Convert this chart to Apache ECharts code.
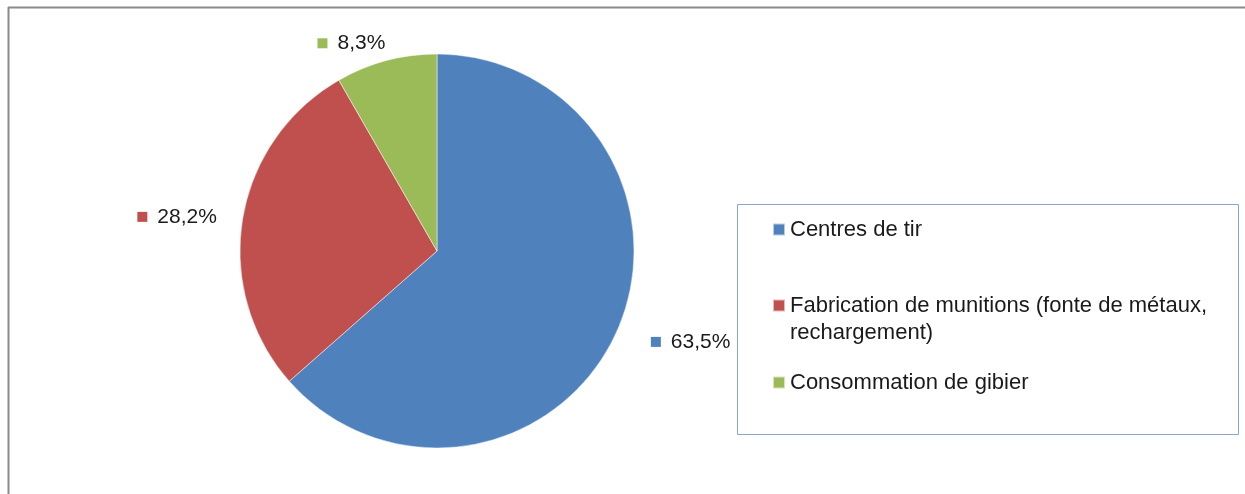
<!DOCTYPE html>
<html>
<head>
<meta charset="utf-8">
<script src="https://cdn.jsdelivr.net/npm/echarts@6/dist/echarts.min.js"></script>
<style>
  html, body { margin: 0; padding: 0; background: #fff; }
  #chart { width: 1245px; height: 494px; }
</style>
</head>
<body>
<div id="chart"></div>
<script>
// ---- data ----
const categories = ['Centres de tir', 'Fabrication de munitions (fonte de métaux, rechargement)', 'Consommation de gibier'];
const legendLabels = ['Centres de tir', '\nFabrication de munitions (fonte de métaux,\nrechargement)', 'Consommation de gibier'];
const shares = [63.5, 28.2, 8.3];
const colors = ['#4f81bd', '#c0504d', '#9bbb59'];

// ---- style ----
const FONT = 'Liberation Sans';
const TEXT = '#1a1a1a';
const labelShift = [[12, 2], [-2, 1], [9, 1]];
const legendTops = [216, 265, 369];

const chart = echarts.init(document.getElementById('chart'), null, { renderer: 'canvas' });

const rich = { t: { fontFamily: FONT, fontSize: 21, color: TEXT, padding: [0, 0, 0, 10] } };
colors.forEach((c, i) => { rich['m' + i] = { width: 10, height: 10, backgroundColor: c }; });

const pieData = categories.map((name, i) => ({ name, value: shares[i], itemStyle: { color: colors[i] } }));

const legends = categories.map((name, i) => ({
  data: [name],
  orient: 'vertical',
  left: 772,
  top: legendTops[i],
  padding: 0,
  icon: 'rect',
  itemWidth: 12,
  itemHeight: 12,
  selectedMode: false,
  formatter: () => legendLabels[i],
  textStyle: { fontFamily: FONT, fontSize: 22, color: TEXT, lineHeight: 27 }
}));

chart.setOption({
  animation: false,
  color: colors,
  legend: legends,
  graphic: [
    { type: 'line', shape: { x1: 8, y1: 7.5, x2: 1245, y2: 7.5 }, style: { stroke: '#8a8a8a', lineWidth: 2 } },
    { type: 'line', shape: { x1: 8.5, y1: 7, x2: 8.5, y2: 494 }, style: { stroke: '#8a8a8a', lineWidth: 2 } },
    { type: 'rect', shape: { x: 737.5, y: 204.5, width: 501, height: 230 }, style: { fill: 'none', stroke: '#8aa6cc', lineWidth: 1 }, z: -1 }
  ],
  series: [{
    type: 'pie',
    center: [437, 251],
    radius: 197,
    startAngle: 90,
    clockwise: true,
    avoidLabelOverlap: false,
    itemStyle: { borderColor: 'rgba(255,255,255,0.6)', borderWidth: 0.8 },
    label: {
      show: true,
      position: 'outside',
      formatter: p => '{m' + p.dataIndex + '|}{t|' + p.value.toFixed(1).replace('.', ',') + '%}',
      rich: rich
    },
    labelLine: { show: false, length: 19, length2: 0 },
    labelLayout: p => ({ dx: labelShift[p.dataIndex][0], dy: labelShift[p.dataIndex][1] }),
    emphasis: { disabled: true },
    data: pieData
  }]
});
</script>
</body>
</html>
